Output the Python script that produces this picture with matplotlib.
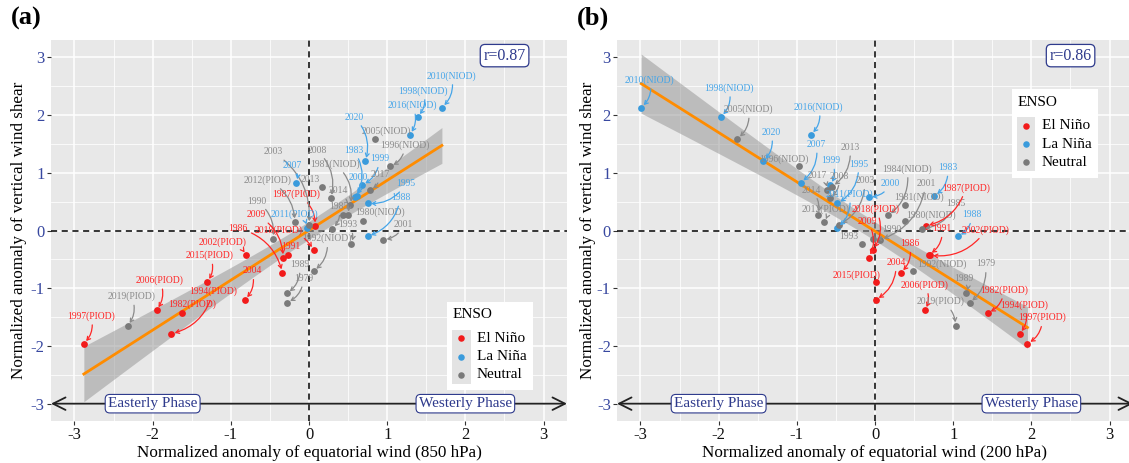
import numpy as np
import matplotlib
matplotlib.use('Agg')
import matplotlib.pyplot as plt
from matplotlib.patches import Rectangle
from matplotlib.ticker import MultipleLocator

plt.rcParams['font.family'] = ['Liberation Serif', 'DejaVu Serif']

# ---------------- data ----------------
years = [1979, 1980, 1981, 1982, 1983, 1984, 1985, 1986, 1987, 1988,
         1989, 1990, 1991, 1992, 1993, 1994, 1995, 1996, 1997, 1998,
         1999, 2000, 2001, 2002, 2003, 2004, 2005, 2006, 2007, 2008,
         2009, 2010, 2011, 2012, 2013, 2014, 2015, 2016, 2017, 2018,
         2019, 2020]
enso = ['N', 'N', 'N', 'E', 'L', 'N', 'N', 'E', 'E', 'L',
        'N', 'N', 'E', 'N', 'N', 'E', 'L', 'N', 'E', 'L',
        'L', 'L', 'N', 'E', 'N', 'E', 'N', 'E', 'L', 'N',
        'E', 'L', 'L', 'N', 'N', 'N', 'E', 'L', 'N', 'E',
        'N', 'L']
iod = ['', 'NIOD', 'NIOD', 'PIOD', '', 'NIOD', '', '', 'PIOD', '',
       '', '', '', 'NIOD', '', 'PIOD', '', 'NIOD', 'PIOD', 'NIOD',
       '', '', '', 'PIOD', '', '', 'NIOD', 'PIOD', '', '',
       '', 'NIOD', 'PIOD', 'PIOD', '', '', 'PIOD', 'NIOD', '', 'PIOD',
       'PIOD', '']
# normalized anomaly of vertical wind shear
shear = [-1.25, 0.16, 0.44, -1.43, 0.60, 0.26, 0.03, -0.73, 0.08, -0.10,
         -1.09, -0.14, -0.42, -0.70, -0.23, -1.79, 0.47, 1.11, -1.96, 1.97,
         0.79, 0.58, -0.16, -0.43, 0.10, -1.20, 1.59, -1.38, 0.83, 0.56,
         -0.47, 2.13, 0.05, 0.15, 0.76, 0.27, -0.89, 1.66, 0.70, -0.34,
         -1.65, 1.20]
# normalized anomaly of equatorial wind, 850 hPa
u850 = [-0.28, 0.69, 0.53, -1.63, 0.61, 0.44, 0.30, -0.34, 0.08, 0.75,
        -0.28, -0.46, -0.27, 0.06, 0.54, -1.76, 0.75, 1.04, -2.88, 1.39,
        0.68, 0.59, 0.95, -0.80, 0.00, -0.82, 0.85, -1.95, -0.16, 0.28,
        -0.33, 1.70, -0.02, -0.18, 0.17, 0.50, -1.30, 1.29, 0.78, 0.06,
        -2.32, 0.72]
# normalized anomaly of equatorial wind, 200 hPa
u200 = [1.21, 0.39, 0.39, 1.44, 0.76, 0.17, 0.60, 0.33, 0.65, 1.06,
        1.17, -0.02, 0.69, 0.48, -0.16, 1.85, -0.48, -0.97, 1.95, -1.97,
        -0.57, -0.08, 0.07, 0.70, -0.46, 0.01, -1.76, 0.64, -0.95, -0.58,
        -0.08, -2.99, -0.48, -0.65, -0.55, -0.73, 0.01, -0.82, -0.61, -0.03,
        1.03, -1.43]
r_text = ['r=0.87', 'r=0.86']
panel_tags = ['(a)', '(b)']
xlabels = ['Normalized anomaly of equatorial wind (850 hPa)',
           'Normalized anomaly of equatorial wind (200 hPa)']
ylabel = 'Normalized anomaly of vertical wind shear'
ticks = [-3, -2, -1, 0, 1, 2, 3]
enso_names = {'E': 'El Niño', 'L': 'La Niña', 'N': 'Neutral'}

# ---------------- layout: label positions (data coords) ----------------
lab_a = {1979: (-0.07, -0.83), 1980: (0.91, 0.31), 1981: (0.33, 1.15), 1982: (-1.50, -1.28),
         1983: (0.57, 1.39), 1984: None, 1985: (0.38, 0.41), 1986: (-0.91, 0.04),
         1987: (-0.16, 0.63), 1988: (1.17, 0.57), 1989: (-0.12, -0.59), 1990: (-0.67, 0.51),
         1991: (-0.23, -0.27), 1992: (0.23, -0.14), 1993: (0.50, 0.10), 1994: (-1.23, -1.06),
         1995: (1.24, 0.81), 1996: (1.23, 1.48), 1997: (-2.79, -1.48), 1998: (1.46, 2.42),
         1999: (0.90, 1.24), 2000: (0.63, 0.91), 2001: (1.21, 0.10), 2002: (-1.10, -0.20),
         2003: (-0.46, 1.36), 2004: (-0.73, -0.70), 2005: (0.99, 1.72), 2006: (-1.91, -0.86),
         2007: (-0.21, 1.13), 2008: (0.10, 1.39), 2009: (-0.68, 0.27), 2010: (1.82, 2.68),
         2011: (-0.18, 0.29), 2012: (-0.53, 0.87), 2013: (0.01, 0.89), 2014: (0.38, 0.69),
         2015: (-1.27, -0.43), 2016: (1.32, 2.17), 2017: (0.91, 0.97), 2018: (-0.39, 0.01),
         2019: (-2.27, -1.14), 2020: (0.58, 1.96)}
lab_b = {1979: (1.41, -0.58), 1980: (0.71, 0.27), 1981: (0.56, 0.58), 1982: (1.65, -1.03),
         1983: (0.93, 1.09), 1984: (0.41, 1.07), 1985: (1.03, 0.47), 1986: (0.44, -0.23),
         1987: (1.16, 0.74), 1988: (1.24, 0.27), 1989: (1.14, -0.83), 1990: (0.21, 0.01),
         1991: (0.86, 0.03), 1992: (0.86, -0.58), 1993: (-0.34, -0.10), 1994: (1.91, -1.29),
         1995: (-0.21, 1.15), 1996: (-1.17, 1.24), 1997: (2.14, -1.51), 1998: (-1.87, 2.47),
         1999: (-0.56, 1.21), 2000: (0.20, 0.81), 2001: (0.65, 0.81), 2002: (1.42, 0.01),
         2003: (-0.13, 0.86), 2004: (0.27, -0.56), 2005: (-1.62, 2.10), 2006: (0.63, -0.94),
         2007: (-0.75, 1.49), 2008: (-0.46, 0.93), 2009: (-0.10, 0.16), 2010: (-2.88, 2.61),
         2011: (-0.33, 0.63), 2012: (-0.63, 0.37), 2013: (-0.32, 1.44), 2014: (-0.82, 0.70),
         2015: (-0.23, -0.78), 2016: (-0.72, 2.14), 2017: (-0.74, 0.96), 2018: (0.01, 0.37),
         2019: (0.84, -1.23), 2020: (-1.33, 1.70)}

PT = {'E': '#F21B1B', 'L': '#3A9BDC', 'N': '#7A7A7A'}
TX = {'E': '#FF2626', 'L': '#45A5E8', 'N': '#8A8A8A'}
NAVY = '#2E3A8C'
TICKNAVY = '#3848A0'

fig = plt.figure(figsize=(11.29, 4.63), dpi=100)
W, H = 1129, 463
axes = [fig.add_axes([51 / W, 42 / H, 516 / W, 381 / H]),
        fig.add_axes([617 / W, 42 / H, 516 / W, 381 / H])]
xs_all = [u850, u200]
labs_all = [lab_a, lab_b]
legend_xy = [(0.767, 0.081), (0.765, 0.639)]
ylab_x = [-0.047, -0.040]

for k, ax in enumerate(axes):
    xv = np.array(xs_all[k])
    yv = np.array(shear)
    ax.set_facecolor('#E8E8E8')
    ax.set_xlim(-3.3, 3.3)
    ax.set_ylim(-3.3, 3.3)
    for s in ax.spines.values():
        s.set_visible(False)
    ax.set_xticks(ticks)
    ax.set_yticks(ticks)
    ax.set_xticklabels([str(t) for t in ticks])
    ax.set_yticklabels([str(t) for t in ticks])
    ax.xaxis.set_minor_locator(MultipleLocator(0.5))
    ax.yaxis.set_minor_locator(MultipleLocator(0.5))
    ax.grid(which='major', color='white', lw=1.1, zorder=0)
    ax.grid(which='minor', color='white', lw=0.55, zorder=0)
    ax.set_axisbelow(True)
    ax.tick_params(which='major', length=3, width=0.8, color='#333333',
                   labelsize=12, pad=1.5)
    ax.tick_params(which='minor', length=0)
    ax.tick_params(axis='x', labelcolor='#111111')
    ax.tick_params(axis='y', labelcolor=TICKNAVY)
    ax.set_xlabel(xlabels[k], fontsize=12.3)
    ax.xaxis.set_label_coords(0.5, -0.063)
    ax.set_ylabel(ylabel, fontsize=12.3)
    ax.yaxis.set_label_coords(ylab_x[k], 0.5)

    # zero lines
    ax.axhline(0, color='black', lw=1.1, ls=(0, (4, 3)), zorder=1)
    ax.axvline(0, color='black', lw=1.1, ls=(0, (4, 3)), zorder=1)

    # linear fit with 95% confidence band
    b1, b0 = np.polyfit(xv, yv, 1)
    n = len(xv)
    xbar = xv.mean()
    sxx = np.sum((xv - xbar) ** 2)
    s = np.sqrt(np.sum((yv - (b0 + b1 * xv)) ** 2) / (n - 2))
    xg = np.linspace(xv.min(), xv.max(), 100)
    yg = b0 + b1 * xg
    se = s * np.sqrt(1.0 / n + (xg - xbar) ** 2 / sxx)
    tval = 2.021
    ax.fill_between(xg, yg - tval * se, yg + tval * se, color='#999999',
                    alpha=0.55, lw=0, zorder=2)
    ax.plot(xg, yg, color='#FF8C00', lw=2.0, zorder=3)

    # points
    for cat in ['E', 'L', 'N']:
        idx = [i for i, c in enumerate(enso) if c == cat]
        ax.scatter(xv[idx], yv[idx], s=24, color=PT[cat], lw=0, zorder=4)

    # labels
    for i, yr in enumerate(years):
        pos = labs_all[k][yr]
        if pos is None:
            continue
        txt = str(yr) + ('(%s)' % iod[i] if iod[i] else '')
        lx, ly = pos
        dxp = (lx - xv[i]) * 78
        dyp = (ly - yv[i]) * 58
        halfw = len(txt) * 2.35
        col = TX[enso[i]]
        if abs(dyp) < 10 and abs(dxp) < halfw + 8:
            ax.text(lx, ly, txt, fontsize=6.9, color=col, ha='center',
                    va='center', zorder=5)
        else:
            ax.annotate(txt, xy=(xv[i], yv[i]), xytext=(lx, ly),
                        fontsize=6.9, color=col, ha='center', va='center',
                        zorder=5,
                        arrowprops=dict(arrowstyle='->,head_length=0.35,head_width=0.2',
                                        color=col, lw=0.9, shrinkA=1, shrinkB=2.5,
                                        connectionstyle='arc3,rad=-0.3'))

    # phase arrow
    ax.annotate('', xy=(1.0, -3), xytext=(0.0, -3),
                xycoords=('axes fraction', 'data'), textcoords=('axes fraction', 'data'),
                arrowprops=dict(arrowstyle='<->,head_length=0.9,head_width=0.45',
                                color='#222222', lw=1.3, shrinkA=0, shrinkB=0),
                zorder=6)
    for xc, t in [(-2, 'Easterly Phase'), (2, 'Westerly Phase')]:
        ax.text(xc, -3, t, fontsize=11, color=NAVY, ha='center', va='center',
                zorder=7,
                bbox=dict(boxstyle='round,pad=0.18,rounding_size=0.3', fc='white',
                          ec=NAVY, lw=0.8))

    # r box
    ax.text(0.879, 0.959, r_text[k], transform=ax.transAxes, fontsize=11.5,
            color=NAVY, ha='center', va='center', zorder=7,
            bbox=dict(boxstyle='round,pad=0.2,rounding_size=0.3', fc='white',
                      ec=NAVY, lw=0.9))

    # legend (ggplot style)
    x0, y0 = legend_xy[k]
    ax.add_patch(Rectangle((x0, y0), 0.168, 0.232, transform=ax.transAxes,
                           fc='white', ec='none', zorder=8))
    ax.text(x0 + 0.011, y0 + 0.198, 'ENSO', transform=ax.transAxes,
            fontsize=11, ha='left', va='center', zorder=9)
    ax.add_patch(Rectangle((x0 + 0.011, y0 + 0.017), 0.035, 0.142,
                           transform=ax.transAxes, fc='#E3E3E3', ec='none', zorder=9))
    for j, (cat, yy) in enumerate([('E', 0.136), ('L', 0.088), ('N', 0.040)]):
        ax.scatter([x0 + 0.0285], [y0 + yy], s=22, color=PT[cat], lw=0,
                   transform=ax.transAxes, zorder=10, clip_on=False)
        ax.text(x0 + 0.058, y0 + yy, enso_names[cat], transform=ax.transAxes,
                fontsize=11, ha='left', va='center', zorder=10)

fig.text(11 / W, 1 - 18 / H, panel_tags[0], fontsize=19, fontweight='bold',
         ha='left', va='center')
fig.text(577 / W, 1 - 18 / H, panel_tags[1], fontsize=19, fontweight='bold',
         ha='left', va='center')

fig.savefig('out.png', dpi=100)
